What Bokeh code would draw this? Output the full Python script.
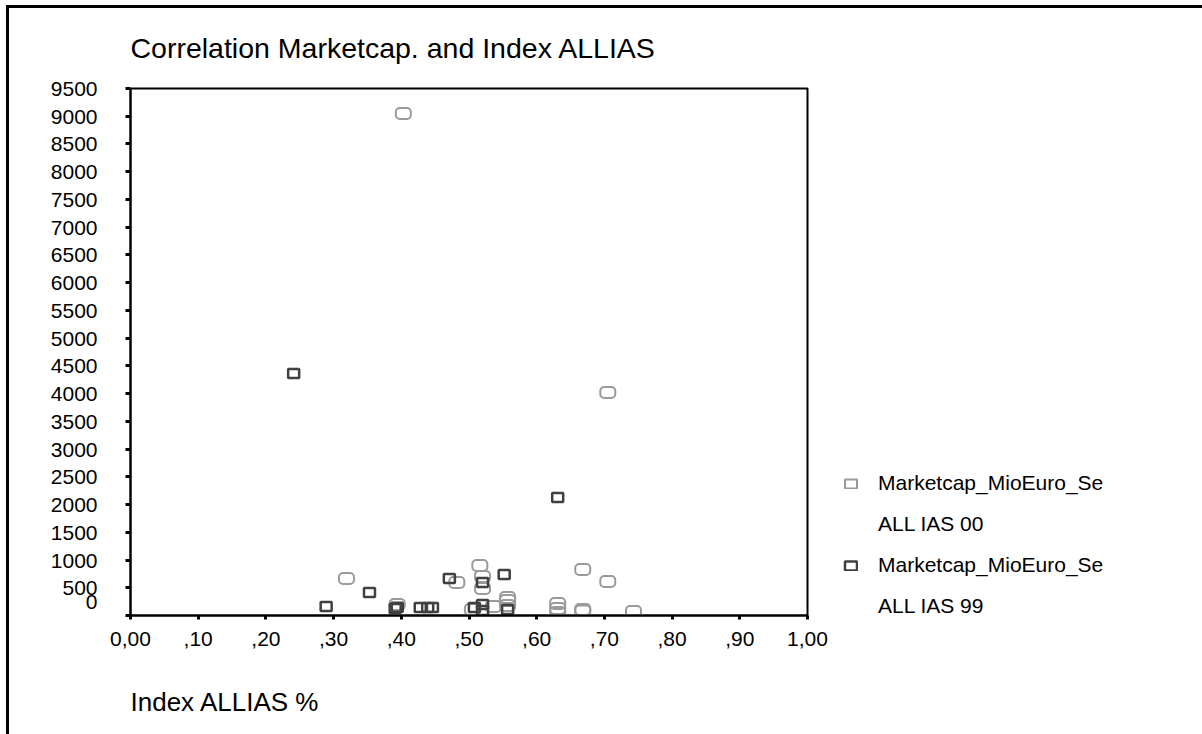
from bokeh.plotting import figure
from bokeh.models import (Range1d, FixedTicker, CustomJSTickFormatter, Legend, LegendItem, Title)
from bokeh.embed import file_html
from bokeh.resources import INLINE

# ---- data ----
ias00_x = [0.403, 0.705, 0.319, 0.394, 0.482, 0.505, 0.516, 0.520, 0.520, 0.536,
           0.557, 0.557, 0.557, 0.631, 0.631, 0.631, 0.668, 0.668, 0.668, 0.705, 0.743]
ias00_y = [9050, 4020, 667, 198, 595, 108, 901, 703, 487, 162,
           325, 270, 180, 216, 126, 54, 829, 108, 80, 613, 72]

ias99_x = [0.241, 0.631, 0.289, 0.353, 0.391, 0.394, 0.428, 0.439, 0.446, 0.471,
           0.508, 0.520, 0.520, 0.520, 0.552, 0.557]
ias99_y = [4363, 2127, 162, 415, 126, 150, 144, 144, 144, 667,
           144, 595, 198, 90, 739, 108]

x_ticks = [0.0, 0.1, 0.2, 0.3, 0.4, 0.5, 0.6, 0.7, 0.8, 0.9, 1.0]
y_ticks = [0, 500, 1000, 1500, 2000, 2500, 3000, 3500, 4000, 4500, 5000,
           5500, 6000, 6500, 7000, 7500, 8000, 8500, 9000, 9500]

title_text = "Correlation Marketcap. and Index ALLIAS"
xlabel_text = "Index ALLIAS %"
series_name = "Marketcap_MioEuro_Se"
series_sub = ["ALL IAS 00", "ALL IAS 99"]

FONT = "Liberation Sans"

p = figure(frame_width=677, frame_height=527, output_backend="svg", toolbar_location=None,
           x_range=Range1d(0, 1), y_range=Range1d(0, 9500),
           min_border_left=130, min_border_right=393, min_border_top=88, min_border_bottom=119)
p.border_fill_color = None
p.background_fill_color = None
p.styles = {"background-color": "white",
            "box-shadow": "inset 6px 5px 0 0 white, inset 9px 8px 0 0 black"}
p.xgrid.visible = False
p.ygrid.visible = False
p.outline_line_color = "black"
p.outline_line_width = 2
p.outline_line_alpha = 1

p.title.text = title_text
p.title.text_font = FONT
p.title.text_font_size = "28.5px"
p.title.text_font_style = "normal"
p.title.text_color = "black"
p.title.align = "left"
p.title.standoff = 50

for ax in (p.xaxis[0], p.yaxis[0]):
    ax.axis_line_color = "black"
    ax.axis_line_width = 2
    ax.major_tick_line_color = "black"
    ax.major_tick_line_width = 3
    ax.major_tick_in = 0
    ax.minor_tick_line_color = None
    ax.major_label_text_font = FONT
    ax.major_label_text_font_size = "21px"
    ax.major_label_text_color = "black"

p.xaxis[0].ticker = FixedTicker(ticks=x_ticks)
p.xaxis[0].major_tick_out = 4
p.xaxis[0].major_label_standoff = 12
p.xaxis[0].formatter = CustomJSTickFormatter(code="""
if (Math.abs(tick) < 1e-9) return "0,00";
if (Math.abs(tick - 1) < 1e-9) return "1,00";
return "," + String(Math.round(tick * 100)).padStart(2, "0");
""")

p.yaxis[0].ticker = FixedTicker(ticks=y_ticks)
p.yaxis[0].major_tick_out = 5
p.yaxis[0].major_label_standoff = 28
p.yaxis[0].formatter = CustomJSTickFormatter(code="return tick === 0 ? '0\\n ' : String(tick);")

kw00 = dict(width=15, height=11, width_units="screen", height_units="screen",
            fill_alpha=0, line_color="#9a9a9a", line_width=2)
try:
    r00 = p.rect(ias00_x, ias00_y, border_radius=4, **kw00)
except Exception:
    r00 = p.rect(ias00_x, ias00_y, **kw00)

r99 = p.rect(ias99_x, ias99_y, width=11, height=9, width_units="screen", height_units="screen",
             fill_alpha=0, line_color="#404040", line_width=2.5)

# invisible renderer used only for the second text line of each legend entry
r_blank = p.rect([], [], width=1, height=1, fill_alpha=0, line_alpha=0)

leg = Legend(items=[LegendItem(label=series_name, renderers=[r00]),
                    LegendItem(label=series_sub[0], renderers=[r_blank]),
                    LegendItem(label=series_name, renderers=[r99]),
                    LegendItem(label=series_sub[1], renderers=[r_blank])],
             location=(36, -6), glyph_width=15, glyph_height=11, label_standoff=20,
             label_height=30, padding=0, margin=0, spacing=11,
             border_line_alpha=0, background_fill_alpha=0,
             label_text_font=FONT, label_text_font_size="21px", label_text_color="black")
p.add_layout(leg, "right")

xt = Title(text=xlabel_text, align="left", text_font=FONT, text_font_size="26px",
           text_font_style="normal", text_color="black", standoff=72)
p.add_layout(xt, "below")

open("out.html", "w").write(file_html(p, INLINE))
